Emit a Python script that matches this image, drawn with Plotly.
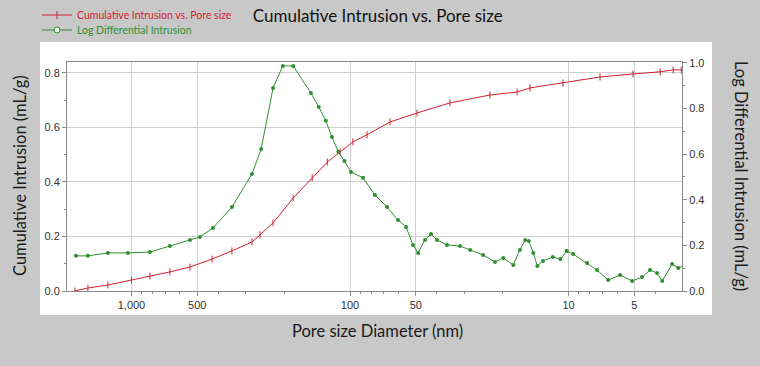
import plotly.graph_objects as go

# Cumulative intrusion (left axis)
cum_diam = [1814, 1582, 1282, 1000, 823, 667, 540, 428, 347, 281, 258, 225, 182, 149, 127,
            111, 97, 83.6, 65.6, 49.4, 34.9, 22.9, 17.2, 15.0, 10.6, 7.18, 5.07, 3.81, 3.32, 3.05]
cum_val = [0.000, 0.011, 0.022, 0.040, 0.055, 0.070, 0.088, 0.117, 0.147, 0.180, 0.206, 0.250,
           0.341, 0.415, 0.473, 0.510, 0.547, 0.573, 0.620, 0.653, 0.690, 0.719, 0.730, 0.745,
           0.763, 0.785, 0.796, 0.804, 0.811, 0.811]

# Log differential intrusion (right axis)
log_diam = [1795, 1582, 1282, 1038, 823, 667, 540, 486, 424, 347, 281, 255, 225, 203, 182,
            151, 139, 129, 121, 113, 106, 99, 87.2, 76.9, 67.7, 60.3, 55.4, 51.5, 48.8, 45.4,
            42.6, 40.0, 36.0, 31.4, 28.2, 24.6, 21.7, 19.9, 17.9, 16.7, 15.8, 15.2, 14.5, 13.9,
            13.1, 11.8, 10.9, 10.2, 9.53, 8.23, 7.41, 6.59, 5.81, 5.12, 4.61, 4.24, 3.94, 3.73,
            3.36, 3.15, 2.97]
log_val = [0.154, 0.154, 0.167, 0.167, 0.171, 0.197, 0.224, 0.237, 0.276, 0.368, 0.513, 0.623,
           0.890, 0.987, 0.987, 0.868, 0.807, 0.746, 0.675, 0.610, 0.570, 0.522, 0.496, 0.421,
           0.368, 0.311, 0.281, 0.202, 0.167, 0.224, 0.250, 0.224, 0.202, 0.197, 0.180, 0.158,
           0.127, 0.145, 0.114, 0.180, 0.224, 0.219, 0.167, 0.110, 0.132, 0.149, 0.140, 0.175,
           0.162, 0.123, 0.092, 0.048, 0.070, 0.044, 0.061, 0.092, 0.079, 0.044, 0.118, 0.101,
           0.110]

series_names = ["Cumulative Intrusion vs. Pore size", "Log Differential Intrusion"]

x_tickvals = [1000, 500, 100, 50, 10, 5]
x_ticktext = ["1,000", "500", "100", "50", "10", "5"]
x_minor = [900, 800, 700, 600, 400, 300, 200, 90, 80, 70, 60, 40, 30, 20, 9, 8, 7, 6, 4, 3]

RED = "#d3202e"
GREEN = "#2f8f2f"
GRID = "#cfcfcf"
AXIS = "#8a8a8a"
BG = "#c8c8c8"
TICKFONT = dict(family="Liberation Sans, Arial, sans-serif", size=11, color="#333333")
TITLEFONT = dict(family="Lato, Open Sans, sans-serif", size=16.5, color="#1a1a1a")

L, R, T, B = 67, 78, 62, 75
PW, PH = 760 - L - R, 366 - T - B


def px(xp):
    return (xp - L) / PW


def py(yp):
    return (366 - B - yp) / PH


fig = go.Figure()
fig.add_trace(go.Scatter(
    x=cum_diam, y=cum_val, mode="lines+markers", name=series_names[0],
    line=dict(color=RED, width=1),
    marker=dict(symbol="line-ns-open", size=5, color=RED, line=dict(color=RED, width=1)),
    yaxis="y"))
fig.add_trace(go.Scatter(
    x=log_diam, y=log_val, mode="lines+markers", name=series_names[1],
    line=dict(color=GREEN, width=1),
    marker=dict(symbol="circle", size=4, color=GREEN),
    yaxis="y2"))

fig.update_layout(
    width=760, height=366,
    paper_bgcolor=BG, plot_bgcolor="white",
    margin=dict(l=L, r=R, t=T, b=B),
    showlegend=False,
    title=dict(text="Cumulative Intrusion vs. Pore size", x=0.497, xanchor="center",
               y=0.955, yanchor="middle", yref="container",
               font=dict(family="Lato, Open Sans, sans-serif", size=17, color="#111111")),
    xaxis=dict(type="log", range=[3.295, 0.481], tickvals=x_tickvals, ticktext=x_ticktext,
               showgrid=True, gridcolor=GRID, gridwidth=1, zeroline=False,
               showline=True, linecolor=AXIS, mirror=True, ticks="outside", ticklen=4,
               tickcolor=AXIS, tickfont=TICKFONT,
               minor=dict(tickvals=x_minor, ticks="outside", ticklen=2, tickcolor=AXIS,
                          showgrid=False)),
    yaxis=dict(range=[0, 0.840], tickvals=[0, 0.2, 0.4, 0.6, 0.8], tickformat=".1f",
               showgrid=True, gridcolor=GRID, zeroline=False, showline=True,
               linecolor=AXIS, ticks="outside", ticklen=4, tickcolor=AXIS, tickfont=TICKFONT,
               minor=dict(dtick=0.1, ticks="outside", ticklen=2, tickcolor=AXIS, showgrid=False)),
    yaxis2=dict(range=[0, 1.004], overlaying="y", side="right",
                tickvals=[0, 0.2, 0.4, 0.6, 0.8, 1.0], tickformat=".1f",
                showgrid=False, zeroline=False, showline=True, linecolor=AXIS,
                ticks="outside", ticklen=4, tickcolor=AXIS, tickfont=TICKFONT,
                minor=dict(dtick=0.1, ticks="outside", ticklen=2, tickcolor=AXIS)),
)

# White panel behind the plotting area
fig.add_shape(type="rect", xref="paper", yref="paper", x0=px(40), x1=px(712),
              y0=py(315), y1=py(42), fillcolor="white", line=dict(width=0), layer="below")

# Manual legend (top-left, outside the white panel)
leg = [(15, RED, series_names[0]), (30, GREEN, series_names[1])]
for yy, col, name in leg:
    fig.add_shape(type="line", xref="paper", yref="paper", x0=px(42), x1=px(72),
                  y0=py(yy), y1=py(yy), line=dict(color=col, width=1))
    fig.add_annotation(text=name, xref="paper", yref="paper", x=px(75), y=py(yy),
                       xanchor="left", yanchor="middle", showarrow=False,
                       font=dict(family="Lato, sans-serif", size=10.5, color=col))
fig.add_shape(type="line", xref="paper", yref="paper", x0=px(57), x1=px(57),
              y0=py(11), y1=py(19), line=dict(color=RED, width=1))
fig.add_shape(type="circle", xref="paper", yref="paper", xsizemode="pixel", ysizemode="pixel",
              xanchor=px(57), yanchor=py(30), x0=-3, x1=3, y0=-3, y1=3,
              line=dict(color=GREEN, width=1), fillcolor="white")

fig.add_annotation(text="Cumulative Intrusion (mL/g)", xref="paper", yref="paper",
                   x=px(20), y=py(176), textangle=-90, showarrow=False,
                   xanchor="center", yanchor="middle", font=TITLEFONT)
fig.add_annotation(text="Log Differential Intrusion (mL/g)", xref="paper", yref="paper",
                   x=px(741), y=py(176), textangle=90, showarrow=False,
                   xanchor="center", yanchor="middle", font=TITLEFONT)
fig.add_annotation(text="Pore size Diameter (nm)", xref="paper", yref="paper",
                   x=px(377), y=py(331), showarrow=False,
                   xanchor="center", yanchor="middle", font=TITLEFONT)

fig.write_html(
    "out.html",
    config={"displayModeBar": False},
    post_script="document.body.style.margin='0px';"
                "document.body.style.overflow='hidden';"
                "document.body.style.background='#c8c8c8';",
)
